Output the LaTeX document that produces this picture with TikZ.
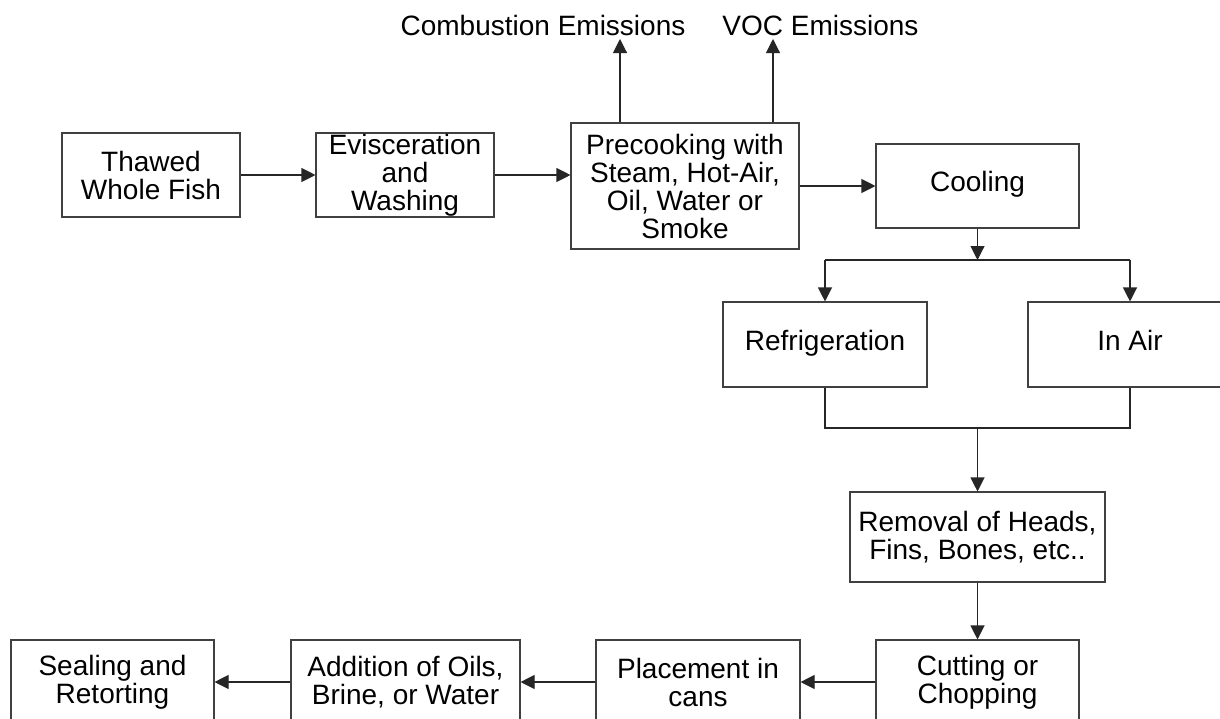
\documentclass[tikz,border=0pt]{standalone}
\usepackage{fontspec}
\setmainfont{Liberation Sans}
\usetikzlibrary{arrows.meta}
\begin{document}
\begin{tikzpicture}[x=0.5pt,y=-0.5pt,
  box/.style={draw=black!75, line width=0.55pt, rectangle, align=center, inner sep=0pt,
              font=\fontsize{14}{14}\selectfont},
  lbl/.style={inner sep=0pt, font=\fontsize{14}{14}\selectfont},
  arr/.style={-{Triangle[length=7pt,width=7pt]}, line width=0.55pt, draw=black!85},
  ln/.style={line width=0.55pt, draw=black!85}]
\useasboundingbox (0,0) rectangle (1220,718);
\fill[white] (0,0) rectangle (1220,718);

% boxes
\node[box, minimum width=89pt,   minimum height=42pt]   (thawed)  at (151,175)    {Thawed\\Whole Fish};
\node[box, minimum width=89pt,   minimum height=42pt]   (evisc)   at (405,175)    {Evisceration\\and\\Washing};
\node[box, minimum width=114pt,  minimum height=63pt]   (precook) at (685,186)    {Precooking with\\Steam, Hot-Air,\\Oil, Water or\\Smoke};
\node[box, minimum width=101.5pt,minimum height=42pt]   (cooling) at (977.5,186)  {\strut Cooling};
\node[box, minimum width=102pt,  minimum height=42.5pt] (refrig)  at (825,344.5)  {\strut Refrigeration};
\node[box, minimum width=102pt,  minimum height=42.5pt] (inair)   at (1130,344.5) {\strut In Air};
\node[box, minimum width=127.5pt,minimum height=45pt]   (removal) at (977.5,537)  {Removal of Heads,\\Fins, Bones, etc..};
\node[box, minimum width=101.5pt,minimum height=42pt]   (cutting) at (977.5,682)  {Cutting or\\Chopping};
\node[box, minimum width=102pt,  minimum height=42pt]   (place)   at (698,682)    {Placement in\\cans};
\node[box, minimum width=114.5pt,minimum height=42pt]   (addit)   at (405.5,682)  {Addition of Oils,\\Brine, or Water};
\node[box, minimum width=101.5pt,minimum height=42pt]   (seal)    at (112.5,682)  {Sealing and\\Retorting};

% emission labels
\node[lbl, anchor=base] (comb) at (543,35)   {Combustion Emissions};
\node[lbl, anchor=base] (voc)  at (820.5,35) {VOC Emissions};
\coordinate (combtip) at (620,39);
\coordinate (voctip)  at (773,39);

% junction points
\coordinate (split) at (977.5,260);
\coordinate (sl) at (825,260);
\coordinate (sr) at (1130,260);
\coordinate (ml) at (825,428);
\coordinate (mr) at (1130,428);
\coordinate (merge) at (977.5,428);

% connectors
\draw[arr] (thawed.east) -- (evisc.west);
\draw[arr] (evisc.east) -- (evisc.east -| precook.west);
\draw[arr] (precook.north -| combtip) -- (combtip);
\draw[arr] (precook.north -| voctip) -- (voctip);
\draw[arr] (precook.east) -- (cooling.west);
\draw[arr] (cooling.south) -- (split);
\draw[ln] (sl) -- (sr);
\draw[arr] (sl) -- (refrig.north);
\draw[arr] (sr) -- (inair.north);
\draw[ln] (refrig.south) -- (ml) -- (mr) -- (inair.south);
\draw[arr] (merge) -- (removal.north);
\draw[arr] (removal.south) -- (cutting.north);
\draw[arr] (cutting.west) -- (place.east);
\draw[arr] (place.west) -- (addit.east);
\draw[arr] (addit.west) -- (seal.east);
\end{tikzpicture}
\end{document}
